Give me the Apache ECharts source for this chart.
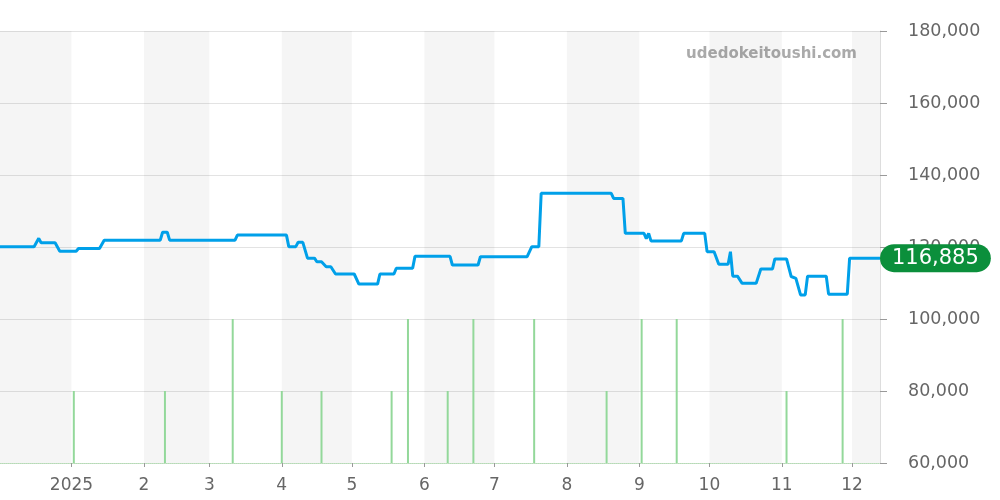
<!DOCTYPE html>
<html>
<head>
<meta charset="utf-8">
<script src="https://cdn.jsdelivr.net/npm/echarts@6/dist/echarts.min.js"></script>
<style>
  html, body { margin: 0; padding: 0; background: #fff; }
  #chart { width: 1000px; height: 500px; }
</style>
</head>
<body>
<div id="chart"></div>
<script>
// price history (date, yen)
const priceDates = [
  '2024-12-01', '2024-12-16', '2024-12-18', '2024-12-19', '2024-12-25', '2024-12-27',
  '2025-01-03', '2025-01-04', '2025-01-13', '2025-01-15', '2025-02-08', '2025-02-09',
  '2025-02-11', '2025-02-12', '2025-03-12', '2025-03-13', '2025-04-03', '2025-04-04',
  '2025-04-07', '2025-04-08', '2025-04-10', '2025-04-12', '2025-04-15', '2025-04-16',
  '2025-04-18', '2025-04-20', '2025-04-22', '2025-04-24', '2025-05-02', '2025-05-04',
  '2025-05-12', '2025-05-13', '2025-05-19', '2025-05-20', '2025-05-27', '2025-05-28',
  '2025-06-12', '2025-06-13', '2025-06-24', '2025-06-25', '2025-07-15', '2025-07-17',
  '2025-07-20', '2025-07-21', '2025-08-20', '2025-08-21', '2025-08-25', '2025-08-26',
  '2025-09-03', '2025-09-04', '2025-09-05', '2025-09-06', '2025-09-19', '2025-09-20',
  '2025-09-29', '2025-09-30', '2025-10-03', '2025-10-05', '2025-10-09', '2025-10-10',
  '2025-10-11', '2025-10-13', '2025-10-15', '2025-10-21', '2025-10-23', '2025-10-28',
  '2025-10-29', '2025-11-03', '2025-11-05', '2025-11-07', '2025-11-09', '2025-11-11',
  '2025-11-12', '2025-11-20', '2025-11-21', '2025-11-29', '2025-11-30', '2025-12-13'
];
const priceValues = [
  120100, 120100, 122400, 121200, 121200, 118800,
  118800, 119600, 119600, 121900, 121900, 124100,
  124100, 121900, 121900, 123300, 123300, 120100,
  120100, 121300, 121300, 116900, 116900, 115900,
  115900, 114500, 114500, 112500, 112500, 109700,
  109700, 112500, 112500, 114100, 114100, 117400,
  117400, 115000, 115000, 117300, 117300, 120100,
  120100, 134900, 134900, 133500, 133500, 123800,
  123800, 122300, 123800, 121700, 121700, 123800,
  123800, 118700, 118700, 115200, 115200, 118700,
  111900, 111900, 109900, 109900, 113900, 113900,
  116700, 116700, 111800, 111300, 106700, 106700,
  111900, 111900, 106900, 106900, 116885, 116885
];

// number of sales per day
const salesDates = [
  '2025-01-02', '2025-02-10', '2025-03-11', '2025-04-01', '2025-04-18',
  '2025-05-18', '2025-05-25', '2025-06-11', '2025-06-22', '2025-07-18',
  '2025-08-18', '2025-09-02', '2025-09-17', '2025-11-03', '2025-11-27'
];
const salesCounts = [1, 1, 2, 1, 1, 1, 2, 1, 2, 2, 1, 2, 2, 1, 2];

// month ticks and shaded months
const monthTicks = [
  '2025-01-01', '2025-02-01', '2025-03-01', '2025-04-01', '2025-05-01', '2025-06-01',
  '2025-07-01', '2025-08-01', '2025-09-01', '2025-10-01', '2025-11-01', '2025-12-01'
];
const shadeStarts = ['2024-12-01', '2025-02-01', '2025-04-01', '2025-06-01', '2025-08-01', '2025-10-01', '2025-12-01'];
const shadeEnds   = ['2025-01-01', '2025-03-01', '2025-05-01', '2025-07-01', '2025-09-01', '2025-11-01', '2025-12-14'];

const axisStart = '2024-12-01';
const axisEnd = '2025-12-13';
const priceMin = 60000, priceMax = 180000, priceStep = 20000;
const latestPrice = priceValues[priceValues.length - 1];

function ts(s) {
  var p = s.split('-').map(Number);
  return new Date(p[0], p[1] - 1, p[2]).getTime();
}

var chart = echarts.init(document.getElementById('chart'));
var font = 'DejaVu Sans';
var HOUR = 3600 * 1000;

var option = {
  animation: false,
  textStyle: { fontFamily: font },
  graphic: [{
    type: 'text',
    right: 143,
    top: 47,
    style: {
      text: 'udedokeitoushi.com',
      font: 'bold 15px "DejaVu Sans"',
      fill: '#aaaaaa'
    }
  }],
  grid: { left: 0, right: 120, top: 31, bottom: 37 },
  xAxis: {
    type: 'value',
    min: ts(axisStart) + 10 * HOUR,
    max: ts(axisEnd),
    splitLine: { show: false },
    axisLine: { show: true, lineStyle: { color: '#b4dcb4', type: 'dotted', width: 1 } },
    axisTick: {
      show: true,
      length: 4,
      customValues: monthTicks.map(ts),
      lineStyle: { color: '#999' }
    },
    axisLabel: {
      customValues: monthTicks.map(ts),
      fontSize: 17,
      color: '#666',
      margin: 14,
      fontFamily: font,
      formatter: function (v) {
        var d = new Date(v);
        return d.getMonth() === 0 ? String(d.getFullYear()) : String(d.getMonth() + 1);
      }
    }
  },
  yAxis: [{
    type: 'value',
    position: 'right',
    min: priceMin,
    max: priceMax,
    interval: priceStep,
    axisLine: { show: true, lineStyle: { color: '#dddddd' } },
    axisTick: { show: true, length: 7, lineStyle: { color: '#999' } },
    splitLine: { show: true, lineStyle: { color: '#e3e3e3' } },
    axisLabel: {
      fontSize: 17.5,
      color: '#666',
      margin: 28,
      fontFamily: font,
      formatter: function (v) { return v.toLocaleString('en-US'); }
    }
  }, {
    type: 'value',
    min: 0,
    max: 6,
    show: false,
    splitLine: { show: false }
  }],
  series: [{
    type: 'line',
    data: [],
    z: 1,
    silent: true,
    markArea: {
      silent: true,
      itemStyle: { color: 'rgba(0,0,0,0.04)' },
      data: shadeStarts.map(function (s, i) {
        return [{ xAxis: ts(s) }, { xAxis: ts(shadeEnds[i]) }];
      })
    }
  }, {
    type: 'bar',
    yAxisIndex: 1,
    barWidth: 2,
    z: 2,
    itemStyle: { color: '#93d89a' },
    data: salesDates.map(function (d, i) { return [ts(d), salesCounts[i]]; })
  }, {
    type: 'line',
    z: 3,
    showSymbol: false,
    lineStyle: { color: '#00a0e9', width: 3 },
    itemStyle: { color: '#00a0e9' },
    data: priceDates.map(function (d, i) { return [ts(d), priceValues[i]]; }),
    markLine: {
      silent: true,
      symbol: 'none',
      lineStyle: { color: 'rgba(0,0,0,0)', width: 1 },
      label: {
        position: 'end',
        distance: 0,
        formatter: function () { return latestPrice.toLocaleString('en-US'); },
        backgroundColor: '#0b8f3b',
        color: '#fff',
        fontSize: 21,
        fontFamily: font,
        borderRadius: 15,
        padding: [4, 12, 3, 12]
      },
      data: [{ yAxis: latestPrice }]
    }
  }]
};

chart.setOption(option);
window.addEventListener('resize', function () {
  chart.resize();
});
</script>
</body>
</html>
